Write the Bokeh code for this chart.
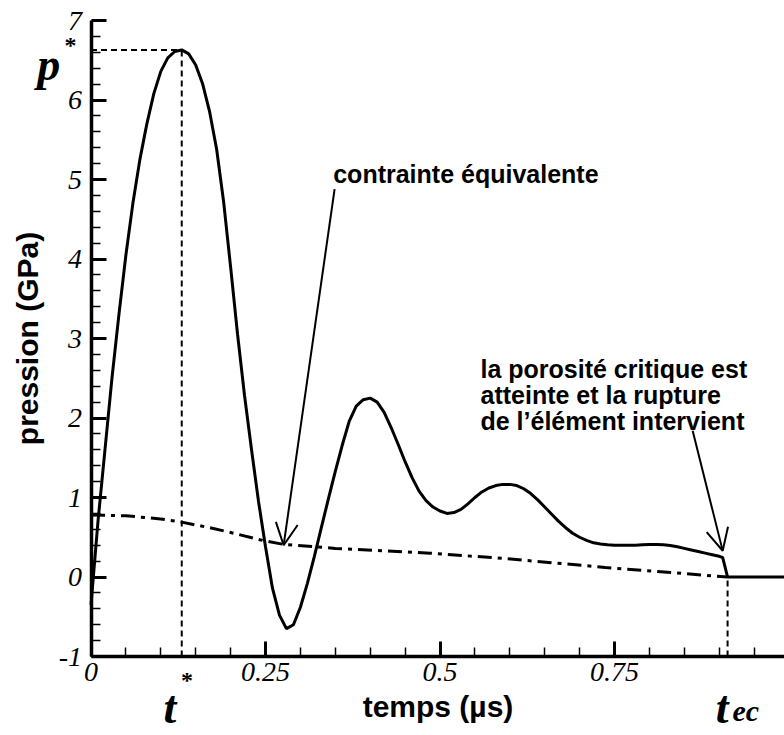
from bokeh.plotting import figure
from bokeh.models import Range1d, FixedTicker, Label, Arrow, OpenHead, LinearAxis
from bokeh.embed import file_html
from bokeh.resources import INLINE

# ---- data ----
t_main = [0.00, 0.01, 0.02, 0.03, 0.04, 0.05, 0.06, 0.07, 0.08, 0.09,
          0.10, 0.11, 0.12, 0.13, 0.14, 0.15, 0.16, 0.17, 0.18, 0.19,
          0.20, 0.21, 0.22, 0.23, 0.24, 0.25, 0.26, 0.27, 0.28, 0.29,
          0.30, 0.31, 0.32, 0.33, 0.34, 0.35, 0.36, 0.37, 0.38, 0.39,
          0.40, 0.41, 0.42, 0.43, 0.44, 0.45, 0.46, 0.47, 0.48, 0.49,
          0.50, 0.51, 0.52, 0.53, 0.54, 0.55, 0.56, 0.57, 0.58, 0.59,
          0.60, 0.61, 0.62, 0.63, 0.64, 0.65, 0.66, 0.67, 0.68, 0.69,
          0.70, 0.71, 0.72, 0.73, 0.74, 0.75, 0.76, 0.77, 0.78, 0.79,
          0.80, 0.81, 0.82, 0.83, 0.84, 0.85, 0.86, 0.87, 0.88, 0.89,
          0.90, 0.905, 0.912, 1.00]
p_main = [-0.35, 0.70, 1.60, 2.50, 3.30, 4.05, 4.70, 5.25, 5.70, 6.08,
          6.36, 6.53, 6.61, 6.63, 6.58, 6.44, 6.20, 5.85, 5.38, 4.72,
          3.90, 3.05, 2.28, 1.60, 0.95, 0.38, -0.14, -0.48, -0.65, -0.60,
          -0.38, -0.08, 0.26, 0.62, 0.98, 1.33, 1.66, 1.96, 2.15, 2.23,
          2.25, 2.20, 2.07, 1.88, 1.67, 1.45, 1.25, 1.08, 0.96, 0.88,
          0.83, 0.80, 0.81, 0.85, 0.92, 1.00, 1.07, 1.12, 1.15, 1.165,
          1.165, 1.15, 1.11, 1.05, 0.97, 0.88, 0.79, 0.70, 0.62, 0.55,
          0.50, 0.46, 0.43, 0.415, 0.405, 0.40, 0.40, 0.40, 0.40, 0.405,
          0.41, 0.41, 0.405, 0.395, 0.38, 0.36, 0.34, 0.32, 0.30, 0.28,
          0.26, 0.245, 0.0, 0.0]

t_eq = [0.00, 0.05, 0.10, 0.13, 0.17, 0.20, 0.246, 0.276, 0.35, 0.42,
        0.486, 0.596, 0.737, 0.912]
p_eq = [0.78, 0.77, 0.73, 0.69, 0.62, 0.56, 0.46, 0.41, 0.36, 0.33,
        0.30, 0.23, 0.12, 0.0]

t_star = 0.13
p_star = 6.63
t_ec = 0.912
x_major = [0, 0.25, 0.5, 0.75, 1.0]
x_labels = ["0", "0.25", "0.5", "0.75", "1"]
y_major = [-1, 0, 1, 2, 3, 4, 5, 6, 7]
y_labels = ["-1", "0", "1", "2", "3", "4", "5", "6", "7"]
x_minor = [round(0.05 * i, 2) for i in range(0, 21)]
y_minor = [round(-1 + 0.2 * i, 2) for i in range(0, 41)]

# frame fills the whole canvas; axes are pinned at t=0 and p=-1
p = figure(width=784, height=735, output_backend="svg", toolbar_location=None,
           x_range=Range1d(-0.12966, 0.99355), y_range=Range1d(-1.9937, 7.2516),
           x_axis_location=None, y_axis_location=None,
           min_border_left=0, min_border_right=0, min_border_top=0,
           min_border_bottom=0)
p.outline_line_color = None
p.grid.visible = False
p.background_fill_color = "white"
p.border_fill_color = "white"

xax = LinearAxis(fixed_location=-1, bounds=(0, 1), axis_label="temps (µs)")
yax = LinearAxis(fixed_location=0, bounds=(-1, 7), axis_label="pression (GPa)")
p.add_layout(xax, "below")
p.add_layout(yax, "left")

for ax, ticks, minors, labels in ((xax, x_major, x_minor, x_labels),
                                  (yax, y_major, y_minor, y_labels)):
    ax.ticker = FixedTicker(ticks=ticks, minor_ticks=minors)
    ax.major_label_overrides = {t: l for t, l in zip(ticks, labels)}
    ax.axis_line_width = 3.5
    ax.axis_line_color = "black"
    ax.major_tick_in = 15
    ax.major_tick_out = 0
    ax.minor_tick_in = 9
    ax.minor_tick_out = 0
    ax.major_tick_line_width = 3
    ax.minor_tick_line_width = 1.5
    ax.major_tick_line_color = "black"
    ax.minor_tick_line_color = "black"
    ax.major_label_text_font = "Liberation Serif"
    ax.major_label_text_font_style = "italic"
    ax.major_label_text_font_size = "28px"
    ax.major_label_text_color = "black"
    ax.axis_label_text_font = "Liberation Sans"
    ax.axis_label_text_font_style = "bold"
    ax.axis_label_text_font_size = "30px"
    ax.axis_label_text_color = "black"

xax.major_label_standoff = 6
yax.major_label_standoff = 9
xax.axis_label_standoff = 6
yax.axis_label_standoff = 12

# guide lines
p.line([0, t_star], [p_star, p_star], line_color="black", line_width=2, line_dash="6 4")
p.line([t_star, t_star], [-1, p_star], line_color="black", line_width=2, line_dash="6 4")
p.line([t_ec, t_ec], [-1, 0], line_color="black", line_width=2, line_dash="6 4")

# curves
p.line(t_eq, p_eq, line_color="black", line_width=3, line_dash="14 6 4 6")
p.line(t_main, p_main, line_color="black", line_width=3)

# arrows
p.add_layout(Arrow(end=OpenHead(size=22, line_width=2, line_color="black"),
                   x_start=0.349, y_start=4.88, x_end=0.276, y_end=0.40,
                   line_width=2, line_color="black"))
p.add_layout(Arrow(end=OpenHead(size=22, line_width=2, line_color="black"),
                   x_start=0.862, y_start=1.84, x_end=0.905, y_end=0.33,
                   line_width=2, line_color="black"))

# annotation texts
def txt(x, y, s, size="25px", font="Liberation Sans", style="bold", align="left", base="alphabetic"):
    p.add_layout(Label(x=x, y=y, text=s, text_font=font, text_font_style=style,
                       text_font_size=size, text_color="black", text_align=align,
                       text_baseline=base))

txt(0.347, 5.07, "contrainte équivalente")
txt(0.558, 2.62, "la porosité critique est")
txt(0.558, 2.29, "atteinte et la rupture")
txt(0.558, 1.96, "de l’élément intervient")

# special symbols
txt(-0.077, 6.45, "p", size="46px", font="Liberation Serif", style="bold italic")
txt(-0.038, 6.86, "*", size="24px", font="Liberation Serif", style="bold", base="top")
txt(0.104, -1.64, "t", size="46px", font="Liberation Serif", style="bold italic")
txt(0.129, -1.13, "*", size="24px", font="Liberation Serif", style="bold", base="top")
txt(0.895, -1.64, "t", size="46px", font="Liberation Serif", style="bold italic")
txt(0.919, -1.68, "ec", size="30px", font="Liberation Serif", style="bold italic")

open("out.html", "w").write(file_html(p, INLINE))
